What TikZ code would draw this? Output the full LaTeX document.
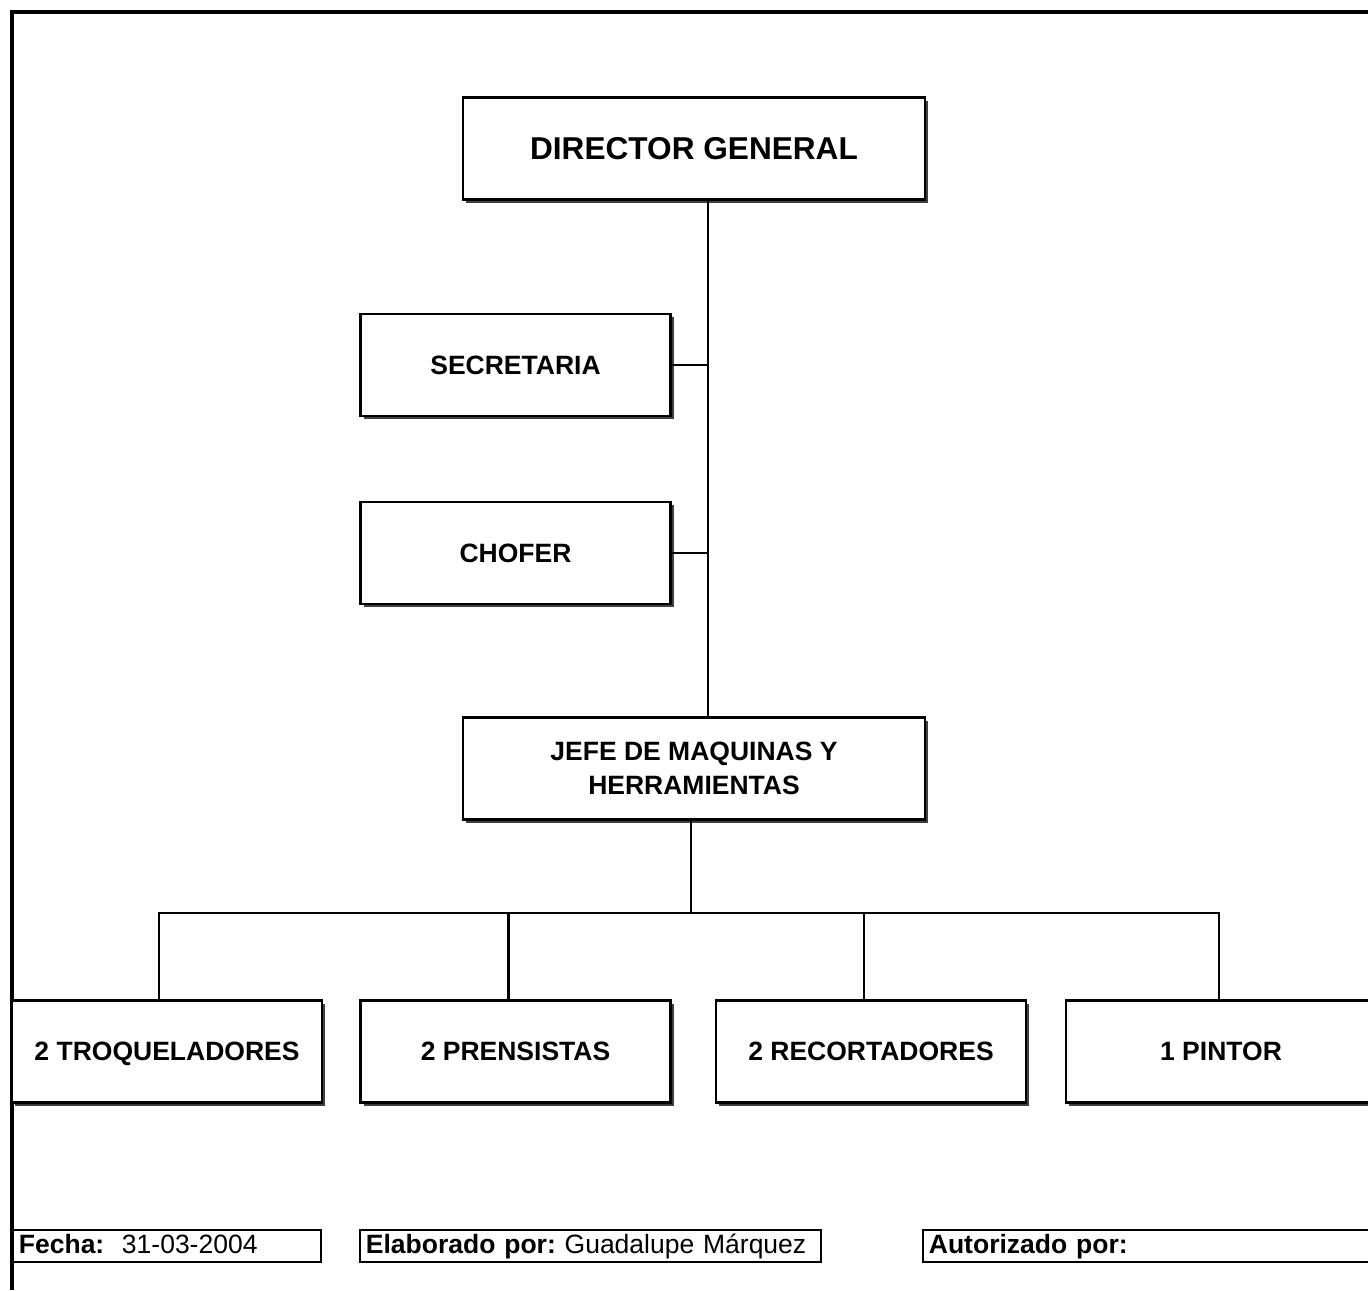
\documentclass[tikz,border=0pt]{standalone}
\usepackage{fontspec}
\setmainfont{Liberation Sans}
\usetikzlibrary{shadows}
\frenchspacing
\tikzset{
  puesto/.style={draw, line width=1.3pt, fill=white, minimum width=155pt, minimum height=51pt,
    align=center, text depth=0pt, font=\bfseries\fontsize{13.25}{17}\selectfont,
    drop shadow={shadow xshift=1.6pt, shadow yshift=-1.6pt, fill=black!75, opacity=1}},
  pie/.style={draw, line width=0.9pt, anchor=west, minimum height=16pt, inner xsep=3pt,
    inner ysep=0pt, text height=10pt, text depth=3pt,
    align=left, font=\fontsize{13.25}{16}\selectfont},
  linea/.style={line width=1.2pt}
}

\begin{document}
\begin{tikzpicture}[x=0.5pt, y=-0.5pt]
  \useasboundingbox (0,0) rectangle (1368,1290);
  \clip (0,0) rectangle (1368,1290);

  % marco
  \draw[line width=2pt] (12,1290) -- (12,12) -- (1368,12);

  % puestos
  \node[puesto, minimum width=231pt, font=\bfseries\fontsize{15.8}{19}\selectfont] (dir) at (694,148.5) {DIRECTOR GENERAL};
  \node[puesto] (sec) at (515.5,365) {SECRETARIA};
  \node[puesto] (chof) at (515.5,553) {CHOFER};
  \node[puesto, minimum width=231pt] (jefe) at (694,768.5) {JEFE DE MAQUINAS Y\\HERRAMIENTAS};
  \node[puesto] (troq) at (167,1051.5) {2 TROQUELADORES};
  \node[puesto] (prens) at (515.5,1051.5) {2 PRENSISTAS};
  \node[puesto] (recort) at (871,1051.5) {2 RECORTADORES};
  \node[puesto] (pintor) at (1221,1051.5) {1 PINTOR};

  % lineas
  \coordinate (tronco) at ([xshift=7pt]dir.south);
  \draw[linea] (tronco) -- (tronco |- jefe.north);
  \draw[linea] (sec.east) -- (sec.east -| tronco);
  \draw[linea] (chof.east) -- (chof.east -| tronco);
  \coordinate (barra) at ([xshift=-1.5pt, yshift=-46pt]jefe.south);
  \draw[linea] ([xshift=-1.5pt]jefe.south) -- (barra);
  \draw[linea] ([xshift=-4pt]troq.north) -- ([xshift=-4pt]troq.north |- barra) -- ([xshift=-1pt]pintor.north |- barra) -- ([xshift=-1pt]pintor.north);
  \foreach \n in {prens, recort}
    \draw[linea] ([xshift=-3.5pt]\n.north) -- ([xshift=-3.5pt]\n.north |- barra);

  % pie
  \node[pie, text width=148pt] (fecha) at (12,1246) {\textbf{Fecha:}\ \ 31-03-2004};
  \node[pie, text width=224.5pt] (elab) at (359,1246) {\textbf{Elaborado por:} Guadalupe Márquez};
  \node[pie, text width=240pt] (aut) at (922,1246) {\textbf{Autorizado por:}};
\end{tikzpicture}
\end{document}
